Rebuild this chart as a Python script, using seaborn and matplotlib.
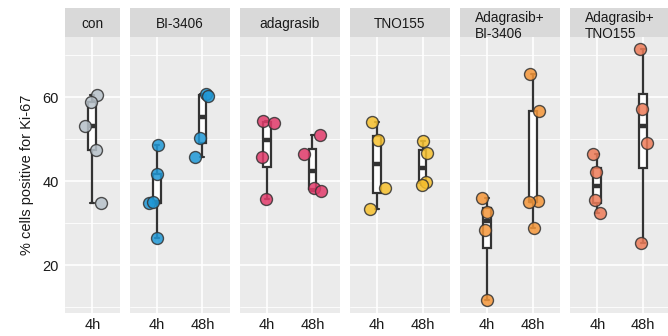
import numpy as np
import pandas as pd
import matplotlib
matplotlib.use('Agg')
import matplotlib.pyplot as plt
import seaborn as sns

# treatments (facets), time points and measured values (% Ki-67 positive cells)
treatments = ['con', 'BI-3406', 'adagrasib', 'TNO155', 'Adagrasib+\nBI-3406', 'Adagrasib+\nTNO155']
colors = ['#b8c2ca', '#1f98d6', '#e23b6b', '#f7c12e', '#f5973a', '#ee7b58']

con_4h = [53.1, 60.5, 58.9, 47.4, 34.8]
bi_4h = [48.7, 41.6, 34.9, 35.1, 26.4]
bi_48h = [60.8, 60.4, 50.2, 45.8]
ada_4h = [54.3, 53.9, 45.8, 35.7]
ada_48h = [51.1, 46.4, 38.4, 37.7]
tno_4h = [54.0, 49.8, 38.4, 33.3]
tno_48h = [49.5, 46.7, 39.8, 39.0]
adabi_4h = [36.0, 32.7, 28.3, 11.7]
adabi_48h = [65.6, 56.7, 35.3, 35.1, 28.9]
adatno_4h = [46.4, 42.1, 35.5, 32.5]
adatno_48h = [71.4, 57.3, 49.0, 25.2]

groups = {
    'con': {'4h': con_4h},
    'BI-3406': {'4h': bi_4h, '48h': bi_48h},
    'adagrasib': {'4h': ada_4h, '48h': ada_48h},
    'TNO155': {'4h': tno_4h, '48h': tno_48h},
    'Adagrasib+\nBI-3406': {'4h': adabi_4h, '48h': adabi_48h},
    'Adagrasib+\nTNO155': {'4h': adatno_4h, '48h': adatno_48h},
}

rows = []
for tr in treatments:
    for tp, vals in groups[tr].items():
        for v in vals:
            rows.append({'treatment': tr, 'time': tp, 'value': v})
df = pd.DataFrame(rows)

sns.set_style('white')
plt.rcParams['font.family'] = ['Liberation Sans', 'DejaVu Sans']

W, H = 668, 336
fig = plt.figure(figsize=(W / 100, H / 100), dpi=100)

left0 = 65
gap = 10
unit = 45.5  # px per category
panel_bottom = 312.7
panel_top = 36.7
strip_top = 8
ylim = (8.7, 74.4)

x = left0
np.random.seed(7)
for i, tr in enumerate(treatments):
    sub = df[df['treatment'] == tr]
    order = list(groups[tr].keys())
    n = len(order)
    w = (n + 0.2) * unit
    ax = fig.add_axes([x / W, (H - panel_bottom) / H, w / W, (panel_bottom - panel_top) / H])
    ax.set_facecolor('#ebebeb')

    sns.boxplot(data=sub, x='time', y='value', order=order, ax=ax, width=0.17,
                color='white', linecolor='#333333', linewidth=1.6,
                whis=(0, 100), showfliers=False,
                medianprops=dict(linewidth=3.2, color='#333333'), zorder=3)
    sns.stripplot(data=sub, x='time', y='value', order=order, ax=ax, color=colors[i],
                  size=8.6, edgecolor='#333333', linewidth=1.0, alpha=0.85,
                  jitter=0.2, zorder=4)

    ax.set_xlim(-0.6, n - 0.4)
    ax.set_ylim(*ylim)
    ax.set_yticks([20, 40, 60])
    ax.set_yticks([10, 30, 50, 70], minor=True)
    ax.grid(True, which='major', color='white', linewidth=1.2, zorder=0)
    ax.grid(True, which='minor', axis='y', color='white', linewidth=0.6, zorder=0)
    ax.set_axisbelow(True)
    for s in ax.spines.values():
        s.set_visible(False)
    ax.tick_params(axis='x', which='major', length=3, width=1.1, color='#333333',
                   labelsize=10.5, labelcolor='#1a1a1a', pad=1)
    ax.tick_params(axis='y', which='minor', length=0)
    if i == 0:
        ax.tick_params(axis='y', which='major', length=3, width=1.1, color='#333333',
                       labelsize=10.5, labelcolor='#1a1a1a', pad=1.5)
        ax.set_ylabel('% cells positive for Ki-67', fontsize=10.5, color='#1a1a1a', labelpad=6)
    else:
        ax.tick_params(axis='y', which='major', length=0, labelleft=False)
        ax.set_ylabel('')
    ax.set_xlabel('')

    # facet strip
    sax = fig.add_axes([x / W, (H - panel_top) / H, w / W, (panel_top - strip_top) / H])
    sax.set_facecolor('#d9d9d9')
    sax.set_xticks([])
    sax.set_yticks([])
    for s in sax.spines.values():
        s.set_visible(False)
    two_lines = '\n' in tr
    sax.text(0.5, 0.36 if two_lines else 0.45, tr, transform=sax.transAxes,
             ha='center', va='center', multialignment='left', fontsize=9.8,
             color='#1a1a1a', linespacing=1.2, clip_on=False)

    x += w + gap

fig.savefig('out.png', dpi=100)
